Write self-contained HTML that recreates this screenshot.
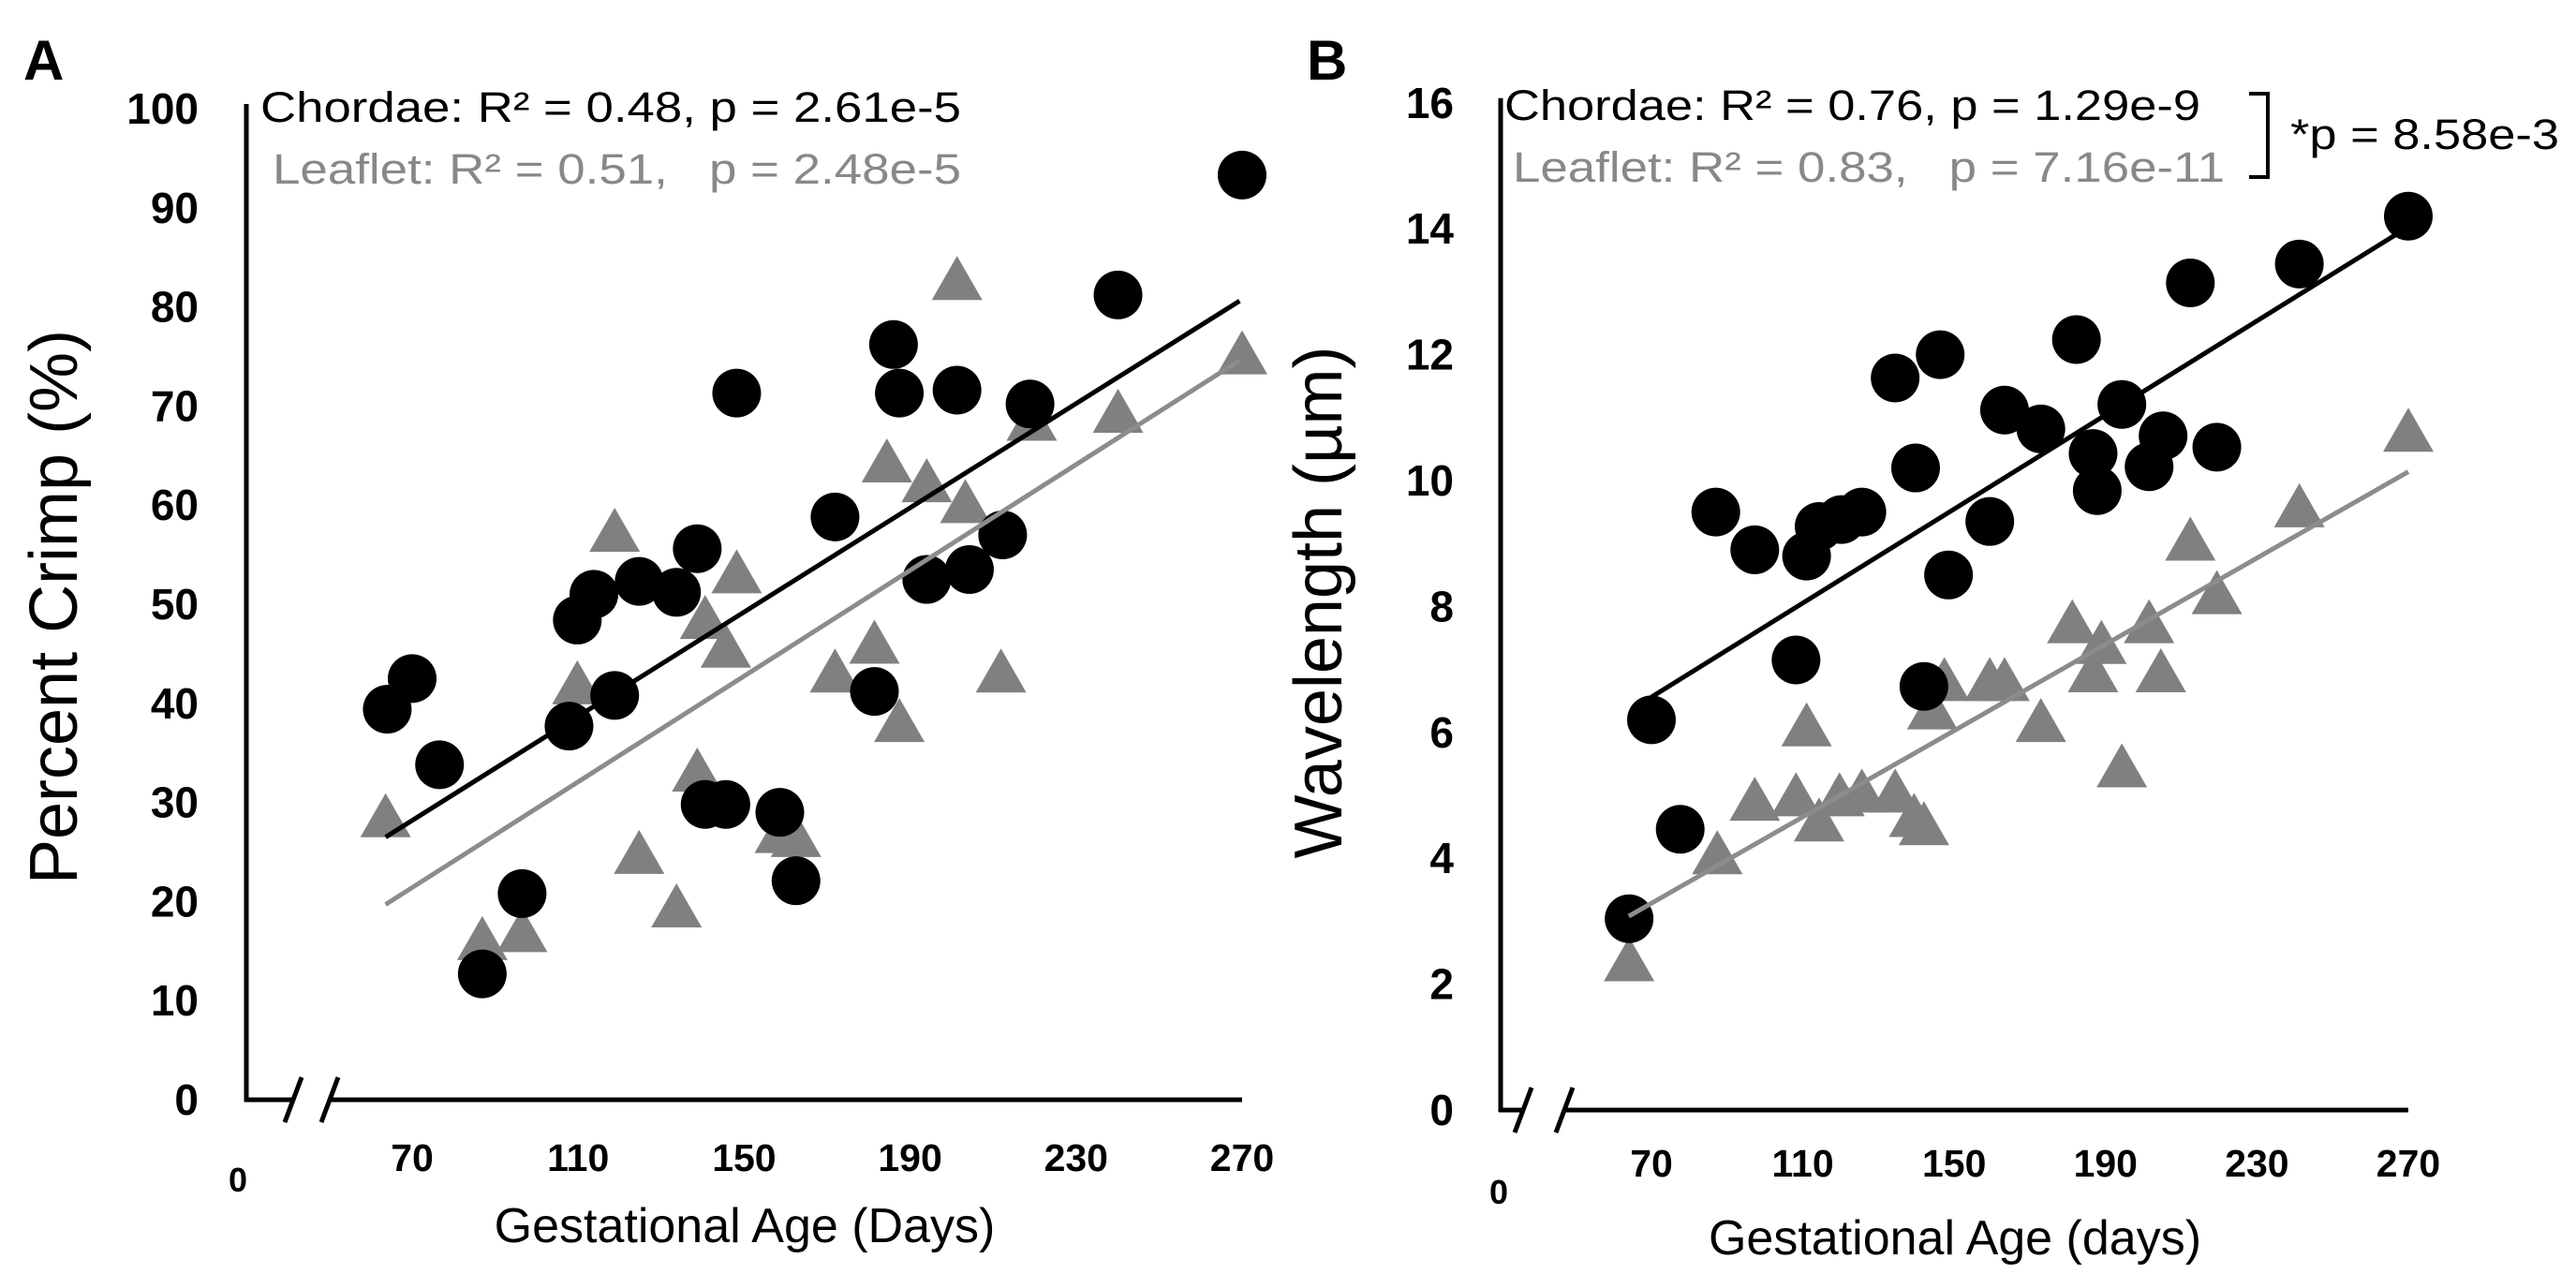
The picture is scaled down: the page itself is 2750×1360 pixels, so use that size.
<!DOCTYPE html>
<html><head><meta charset="utf-8"><style>
html,body{margin:0;padding:0;background:#fff}
svg{display:block}
text{font-family:"Liberation Sans",Arial,sans-serif}
</style></head><body>
<svg id="fig" width="2750" height="1360" viewBox="0 0 2750 1360" xmlns="http://www.w3.org/2000/svg"></svg>
<script>
// Panel A data
const aChordaeX=[64,70,76.6,86.9,96.5,107.8,109.8,113.8,118.8,124.7,133.7,138.7,140.6,145.6,148.2,158.6,162.5,171.9,181.4,186,187.4,194,201.3,204.3,212.3,218.9,240.1,270];
const aChordaeY=[39.4,42.5,33.8,12.7,20.8,37.7,48.4,51,40.8,52.3,51.2,55.6,29.8,29.8,71.3,29,22.1,58.8,41.2,76.2,71.3,52.5,71.6,53.5,57,70.2,81.2,93.3];
const aLeafletX=[63.6,86.9,96.5,109.8,118.8,124.7,133.7,138.7,140.6,145.6,148.2,158.6,162.5,171.9,181.4,184.4,187.4,194,201.3,203.3,211.9,219.3,240.1,270];
const aLeafletY=[28.1,15.7,16.5,41.5,56.9,24.4,19,32.7,48.1,45.2,52.7,26.5,26.1,42.7,45.6,63.9,37.7,61.9,82.3,59.8,42.7,68.1,68.9,74.8];
const aChordaeFit=[[63.6,26.5],[269.4,80.6]];
const aLeafletFit=[[63.6,19.7],[269.4,74.6]];
const aYTicks=[0,10,20,30,40,50,60,70,80,90,100];
// Panel B data
const bChordaeX=[64.1,70,77.6,87,97.3,108.2,111,114.3,120.2,125.6,134.4,139.8,142,146.3,148.5,159.4,163.3,172.9,182.3,186.7,187.8,194.3,201.5,205.2,212.4,219.4,241.2,270];
const bChordaeY=[3.04,6.2,4.46,9.5,8.9,7.15,8.8,9.27,9.38,9.5,11.63,10.2,6.73,12,8.5,9.35,11.12,10.82,12.24,10.43,9.84,11.21,10.22,10.71,13.14,10.53,13.44,14.2];
const bLeafletX=[64.1,87.4,97.3,108.2,111,114.3,119.7,125.6,134.4,139.4,142,144.2,147.4,159.4,163.3,172.9,181.2,186.7,188.9,194.3,201.5,204.6,212.4,219.4,241.2,270];
const bLeafletY=[2.3,4.0,4.85,4.92,6.03,4.52,4.92,4.98,4.98,4.59,4.46,6.3,6.75,6.75,6.75,6.1,7.67,6.89,7.34,5.38,7.67,6.89,8.98,8.13,9.51,10.71];
const bChordaeFit=[[70,6.56],[270,14.03]];
const bLeafletFit=[[64,3.08],[270,10.14]];
const bYTicks=[0,2,4,6,8,10,12,14,16];
const xTicks=[70,110,150,190,230,270];

const NS="http://www.w3.org/2000/svg";
const svg=document.getElementById('fig');
function mk(tag,attrs,parent,txt){const e=document.createElementNS(NS,tag);for(const k in attrs)e.setAttribute(k,attrs[k]);if(txt!==undefined)e.textContent=txt;(parent||svg).appendChild(e);return e;}

function panel(cfg){
  const g=mk('g',{});
  
  
  const sx=v=>cfg.x70+(v-70)*cfg.pxDay;
  const sy=v=>cfg.y0-(v-cfg.ymin)*cfg.pxUnit;
  const ya=mk('line',{x1:cfg.axX,y1:sy(cfg.ymax)-5,x2:cfg.axX,y2:cfg.y0+2,stroke:'#000','stroke-width':5},g);
  
  const xa1=mk('line',{x1:cfg.axX-2,y1:cfg.y0,x2:cfg.brk1,y2:cfg.y0,stroke:'#000','stroke-width':5},g);
  
  const xa2=mk('line',{x1:cfg.brk2,y1:cfg.y0,x2:sx(270),y2:cfg.y0,stroke:'#000','stroke-width':5},g);
  
  [cfg.brk1,cfg.brk2].forEach(b=>{
    const s=mk('line',{x1:b-9,y1:cfg.y0+24,x2:b+9,y2:cfg.y0-24,stroke:'#000','stroke-width':5},g);
    
  });
  cfg.yTicks.forEach(t=>{
    const e=mk('text',{x:cfg.yLabX,y:sy(t)+16,'text-anchor':'end','font-size':46,'font-weight':'bold',fill:'#000'},g,String(t));
    
  });
  xTicks.forEach(t=>{
    const e=mk('text',{x:sx(t),y:cfg.xLabY,'text-anchor':'middle','font-size':41,'font-weight':'bold',fill:'#000'},g,String(t));
    
  });
  const z=mk('text',{x:cfg.zeroX,y:cfg.zeroY,'text-anchor':'middle','font-size':36,'font-weight':'bold',fill:'#000'},g,'0');
  
  const pl=mk('text',{x:cfg.letX,y:cfg.letY,'font-size':60,'font-weight':'bold',fill:'#000'},g,cfg.letter);
  
  const yt=mk('text',{x:0,y:0,transform:`translate(${cfg.ytX},${cfg.ytY}) rotate(-90)`,'text-anchor':'middle','font-size':72,fill:'#000'},g,cfg.ytitle);
  
  const xt=mk('text',{x:cfg.xtX,y:cfg.xtY,'text-anchor':'middle','font-size':52,fill:'#000'},g,cfg.xtitle);
  
  const a1=mk('text',{x:cfg.ann1[0],y:cfg.ann1[1],'font-size':45,fill:'#000',textLength:cfg.ann1[2],lengthAdjust:'spacingAndGlyphs'},g,cfg.ann1[3]);
  
  const a2=mk('text',{x:cfg.ann2[0],y:cfg.ann2[1],'font-size':45,fill:'#888',textLength:cfg.ann2[2],lengthAdjust:'spacingAndGlyphs',style:'white-space:pre'},g,cfg.ann2[3]);
  
  cfg.lx.forEach((v,i)=>{
    const cx=sx(v),cy=sy(cfg.ly[i]);
    const p=mk('polygon',{points:`${cx},${cy-30} ${cx-27},${cy+17} ${cx+27},${cy+17}`,fill:'#808080'},g);
    
  });
  cfg.cx.forEach((v,i)=>{
    const c=mk('circle',{cx:sx(v),cy:sy(cfg.cy[i]),r:26,fill:'#000'},g);
    
  });
  const f1=mk('line',{x1:sx(cfg.lfit[0][0]),y1:sy(cfg.lfit[0][1]),x2:sx(cfg.lfit[1][0]),y2:sy(cfg.lfit[1][1]),stroke:'#8c8c8c','stroke-width':5},g);
  
  const f2=mk('line',{x1:sx(cfg.cfit[0][0]),y1:sy(cfg.cfit[0][1]),x2:sx(cfg.cfit[1][0]),y2:sy(cfg.cfit[1][1]),stroke:'#000','stroke-width':5},g);
  
  return g;
}

panel({name:'panel-a',letter:'A',letX:25,letY:85,x70:440,pxDay:4.43,y0:1174,ymin:0,ymax:100,pxUnit:10.58,
  axX:263,brk1:313,brk2:352,yTicks:aYTicks,yLabX:212,xLabY:1250,zeroX:254,zeroY:1272,
  ytX:82,ytY:648,ytitle:'Percent Crimp (%)',xtX:795,xtY:1326,xtitle:'Gestational Age (Days)',
  ann1:[278,130,748,'Chordae: R² = 0.48, p = 2.61e-5'],ann2:[291,196,735,'Leaflet: R² = 0.51,   p = 2.48e-5'],
  cx:aChordaeX,cy:aChordaeY,lx:aLeafletX,ly:aLeafletY,cfit:aChordaeFit,lfit:aLeafletFit});

panel({name:'panel-b',letter:'B',letX:1395,letY:85,x70:1763,pxDay:4.04,y0:1185,ymin:0,ymax:16,pxUnit:67.2,
  axX:1602,brk1:1626,brk2:1670,yTicks:bYTicks,yLabX:1552,xLabY:1256,zeroX:1600,zeroY:1285,
  ytX:1432,ytY:643,ytitle:'Wavelength (µm)',xtX:2087,xtY:1339,xtitle:'Gestational Age (days)',
  ann1:[1606,128,743,'Chordae: R² = 0.76, p = 1.29e-9'],ann2:[1615,194,760,'Leaflet: R² = 0.83,   p = 7.16e-11'],
  cx:bChordaeX,cy:bChordaeY,lx:bLeafletX,ly:bLeafletY,cfit:bChordaeFit,lfit:bLeafletFit});

const br=mk('polyline',{points:'2401,100 2421,100 2421,189 2401,189',fill:'none',stroke:'#000','stroke-width':4});

const bp=mk('text',{x:2445,y:159,'font-size':45,fill:'#000',textLength:287,lengthAdjust:'spacingAndGlyphs'},svg,'*p = 8.58e-3');

</script>
</body></html>
